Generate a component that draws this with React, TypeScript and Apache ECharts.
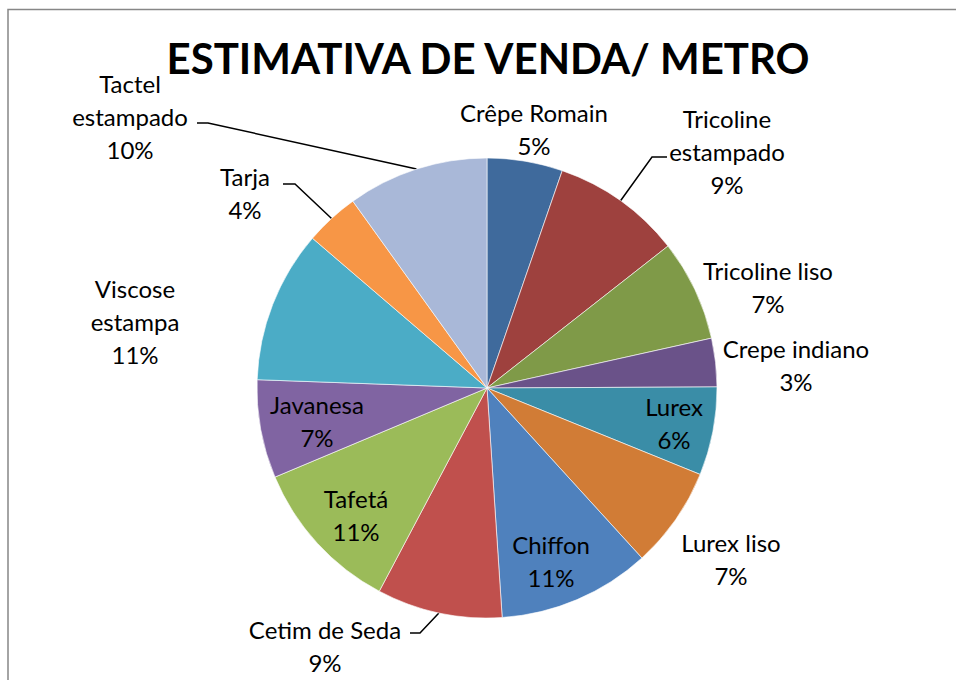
import React, { useEffect, useRef } from "react";
import * as echarts from "echarts";

const categories = [
  "Crêpe Romain",
  "Tricoline estampado",
  "Tricoline liso",
  "Crepe indiano",
  "Lurex",
  "Lurex liso",
  "Chiffon",
  "Cetim de Seda",
  "Tafetá",
  "Javanesa",
  "Viscose estampa",
  "Tarja",
  "Tactel estampado",
];
const values = [5.3, 9.1, 7.1, 3.4, 6.2, 7.1, 10.7, 8.8, 10.9, 6.9, 10.7, 3.8, 9.9];
const colors = [
  "#3F6A9C", "#9E413E", "#7F9A48", "#6A5289", "#3A8DA7", "#D17C36",
  "#4F81BD", "#C0504D", "#9BBB59", "#8064A2", "#4BACC6", "#F79646", "#A9B8D8",
];
const titleText = "ESTIMATIVA DE VENDA/ METRO";

// names whose first space becomes a line break in the label
const wrapped = ["Tricoline estampado", "Viscose estampa", "Tactel estampado"];

// label layout: center of the label box, optional leader elbow/end
const labelLayoutPos: { x: number; y: number; leader?: [number, number][] }[] = [
  { x: 534, y: 129 },
  { x: 727, y: 151, leader: [[652, 157], [667, 157]] },
  { x: 768, y: 287 },
  { x: 796, y: 365 },
  { x: 674, y: 423 },
  { x: 731, y: 559 },
  { x: 551, y: 561 },
  { x: 325, y: 646, leader: [[420, 633], [410, 633]] },
  { x: 356, y: 515 },
  { x: 317, y: 421 },
  { x: 135, y: 321 },
  { x: 245, y: 193, leader: [[295, 184], [283, 184]] },
  { x: 130, y: 116, leader: [[208, 123], [197, 123]] },
];

export default function App() {
  const ref = useRef<HTMLDivElement>(null);
  useEffect(() => {
    document.body.style.margin = "0";
    const chart = echarts.init(ref.current!, undefined, { renderer: "svg" });
    const data = categories.map((name, i) => ({
      name,
      value: values[i],
      itemStyle: { color: colors[i] },
      labelLine: { show: !!labelLayoutPos[i].leader },
    }));
    chart.setOption({
      animation: false,
      backgroundColor: "#fff",
      title: {
        text: titleText,
        left: 483,
        top: 32,
        textAlign: "center",
        textStyle: { fontFamily: "Lato", fontWeight: "bold", fontSize: 42, color: "#000" },
      },
      graphic: [
        {
          type: "rect",
          shape: { x: 8, y: 9.5, width: 2000, height: 2000 },
          style: { fill: "none", stroke: "#878787", lineWidth: 1.5 },
          silent: true,
        },
      ],
      series: [
        {
          type: "pie",
          center: [487, 388],
          radius: 230,
          startAngle: 90,
          clockwise: true,
          data,
          itemStyle: { borderColor: "#fff", borderWidth: 0.6 },
          label: {
            show: true,
            position: "outside",
            fontFamily: "Lato",
            fontSize: 24,
            lineHeight: 33,
            color: "#000",
            align: "center",
            formatter: (p: any) => {
              const n = wrapped.includes(p.name) ? p.name.replace(" ", "\n") : p.name;
              return n + "\n" + Math.round(p.percent) + "%";
            },
          },
          labelLine: { lineStyle: { color: "#000", width: 1.5 }, length: 10, length2: 10 },
          labelLayout: (params: any) => {
            const pos = labelLayoutPos[params.dataIndex];
            const res: any = {
              x: pos.x,
              y: pos.y,
              align: "center",
              verticalAlign: "middle",
            };
            if (pos.leader && params.labelLinePoints) {
              res.labelLinePoints = [params.labelLinePoints[0], ...pos.leader];
            }
            return res;
          },
        },
      ],
    });
    return () => chart.dispose();
  }, []);
  return <div ref={ref} style={{ width: 956, height: 680 }} />;
}
